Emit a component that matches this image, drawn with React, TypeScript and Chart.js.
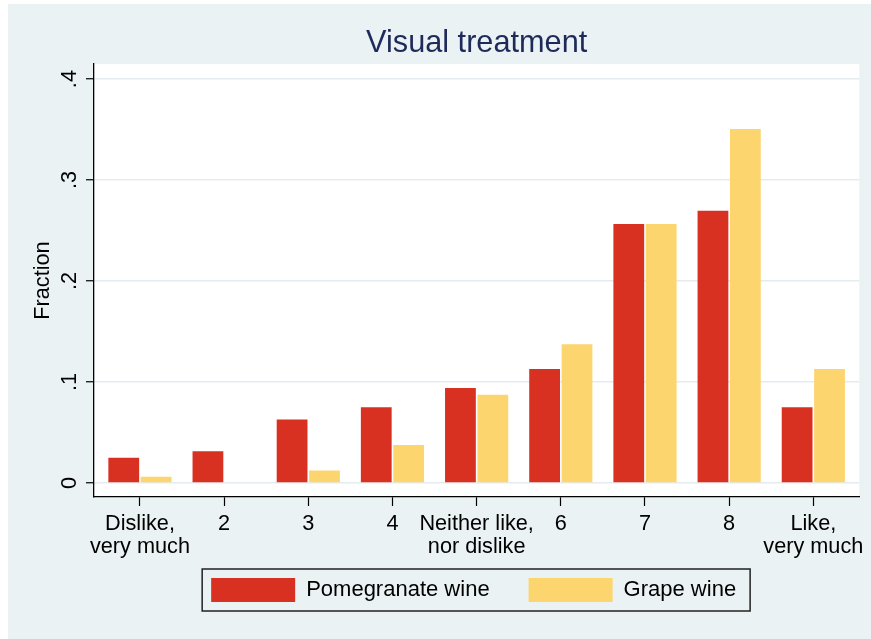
import { useEffect, useRef } from 'react';
import { Chart, registerables } from 'chart.js';

Chart.register(...registerables);

const categories: (string | string[])[] = [
  ['Dislike,', 'very much'],
  '2',
  '3',
  '4',
  ['Neither like,', 'nor dislike'],
  '6',
  '7',
  '8',
  ['Like,', 'very much'],
];
const seriesNames = ['Pomegranate wine', 'Grape wine'];
const pomegranate = [0.025, 0.0315, 0.063, 0.075, 0.094, 0.113, 0.2565, 0.2695, 0.075];
const grape = [0.0063, 0, 0.0125, 0.0376, 0.0875, 0.1375, 0.2565, 0.3505, 0.113];
const yTicks = [0, 0.1, 0.2, 0.3, 0.4];
const yTickLabels = ['0', '.1', '.2', '.3', '.4'];
const titleText = 'Visual treatment';
const yTitle = 'Fraction';

const FONT = "'Liberation Sans', Arial, Helvetica, sans-serif";
const BG = '#EAF2F3';
const RED = '#D93121';
const YELLOW = '#FDD56F';
const NAVY = '#1E2A5A';

const stataPlugin = {
  id: 'stataLook',
  beforeDraw(chart: any) {
    const { ctx, width, height, chartArea } = chart;
    ctx.save();
    ctx.fillStyle = BG;
    ctx.fillRect(0, 0, width, height);
    ctx.fillStyle = '#FFFFFF';
    ctx.fillRect(chartArea.left, chartArea.top, chartArea.right - chartArea.left, chartArea.bottom - chartArea.top);
    ctx.restore();
  },
  afterLayout(chart: any) {
    const ca = chart.chartArea;
    const cx = (ca.left + ca.right) / 2;
    const t = chart.titleBlock;
    if (t) {
      const dx = cx - (t.left + t.right) / 2;
      t.left += dx;
      t.right += dx;
    }
    const l = chart.legend;
    if (l) {
      const dx = cx - 3 - (l.left + l.right) / 2;
      l.left += dx;
      l.right += dx;
      const targetTop = ca.bottom + 42;
      const dy = targetTop - l.top;
      l.top += dy;
      l.bottom += dy;
    }
  },
  afterDraw(chart: any) {
    const l = chart.legend;
    if (!l || !l.legendHitBoxes || !l.legendHitBoxes.length) return;
    const hb = l.legendHitBoxes;
    const first = hb[0];
    const last = hb[hb.length - 1];
    const { ctx } = chart;
    ctx.save();
    ctx.strokeStyle = '#222';
    ctx.lineWidth = 1.5;
    const x0 = first.left - 9;
    const y0 = first.top - 9;
    const x1 = last.left + last.width + 14;
    const y1 = first.top + first.height + 9;
    ctx.strokeRect(x0, y0, x1 - x0, y1 - y0);
    ctx.restore();
  },
};

export default function App() {
  const ref = useRef<HTMLCanvasElement>(null);

  useEffect(() => {
    if (!ref.current) return;
    const chart = new Chart(ref.current, {
      type: 'bar',
      data: {
        datasets: [
          {
            label: seriesNames[0],
            data: pomegranate.map((v, i) => ({ x: i, y: v })),
            backgroundColor: RED,
            borderWidth: 0,
          },
          {
            label: seriesNames[1],
            data: grape.map((v, i) => ({ x: i, y: v })),
            backgroundColor: YELLOW,
            borderWidth: 0,
          },
        ],
      },
      options: {
        animation: false,
        responsive: false,
        layout: { padding: { left: 0, right: 11, top: 0, bottom: 0 } },
        datasets: { bar: { categoryPercentage: 0.77, barPercentage: 0.95 } },
        scales: {
          x: {
            type: 'linear',
            offset: false,
            min: -0.546,
            max: 8.546,
            afterBuildTicks: (s: any) => {
              s.ticks = categories.map((_, i) => ({ value: i }));
            },
            afterFit: (s: any) => {
              s.height = 69;
            },
            ticks: {
              callback: (_v: any, i: number) => categories[i],
              autoSkip: false,
              maxRotation: 0,
              minRotation: 0,
              padding: 7,
              color: '#000',
              font: { family: FONT, size: 21.7, lineHeight: 1.03 },
            },
            grid: {
              offset: false,
              drawOnChartArea: false,
              drawTicks: true,
              tickLength: 9,
              tickColor: '#000',
              tickWidth: 1.2,
            },
            border: { color: '#000', width: 1.3 },
          },
          y: {
            type: 'linear',
            min: -0.01386,
            max: 0.4149,
            afterBuildTicks: (s: any) => {
              s.ticks = yTicks.map((v) => ({ value: v }));
            },
            afterFit: (s: any) => {
              s.width = 86;
            },
            ticks: {
              callback: (_v: any, i: number) => yTickLabels[i],
              minRotation: 90,
              maxRotation: 90,
              crossAlign: 'center',
              padding: 7,
              color: '#000',
              font: { family: FONT, size: 21.7 },
            },
            grid: {
              color: '#E4ECEF',
              lineWidth: 1.5,
              drawTicks: true,
              tickLength: 8,
              tickColor: '#000',
              tickWidth: 1.2,
            },
            border: { color: '#000', width: 1.3 },
            title: {
              display: true,
              text: yTitle,
              color: '#000',
              font: { family: FONT, size: 21.7, lineHeight: 1.2 },
              padding: { top: 22.5, bottom: 0 },
            },
          },
        },
        plugins: {
          title: {
            display: true,
            text: titleText,
            color: NAVY,
            font: { family: FONT, size: 30.7, weight: 'normal', lineHeight: 1.2 },
            padding: { top: 21, bottom: 2.2 },
          },
          legend: {
            position: 'bottom',
            labels: {
              boxWidth: 84,
              boxHeight: 24,
              padding: 39,
              color: '#000',
              font: { family: FONT, size: 22 },
            },
          },
          tooltip: { enabled: false },
        },
      } as any,
      plugins: [stataPlugin],
    });
    return () => chart.destroy();
  }, []);

  return (
    <div style={{ position: 'absolute', left: 8, top: 4, width: 863, height: 635 }}>
      <canvas ref={ref} width={863} height={635} style={{ display: 'block', width: 863, height: 635 }} />
    </div>
  );
}
